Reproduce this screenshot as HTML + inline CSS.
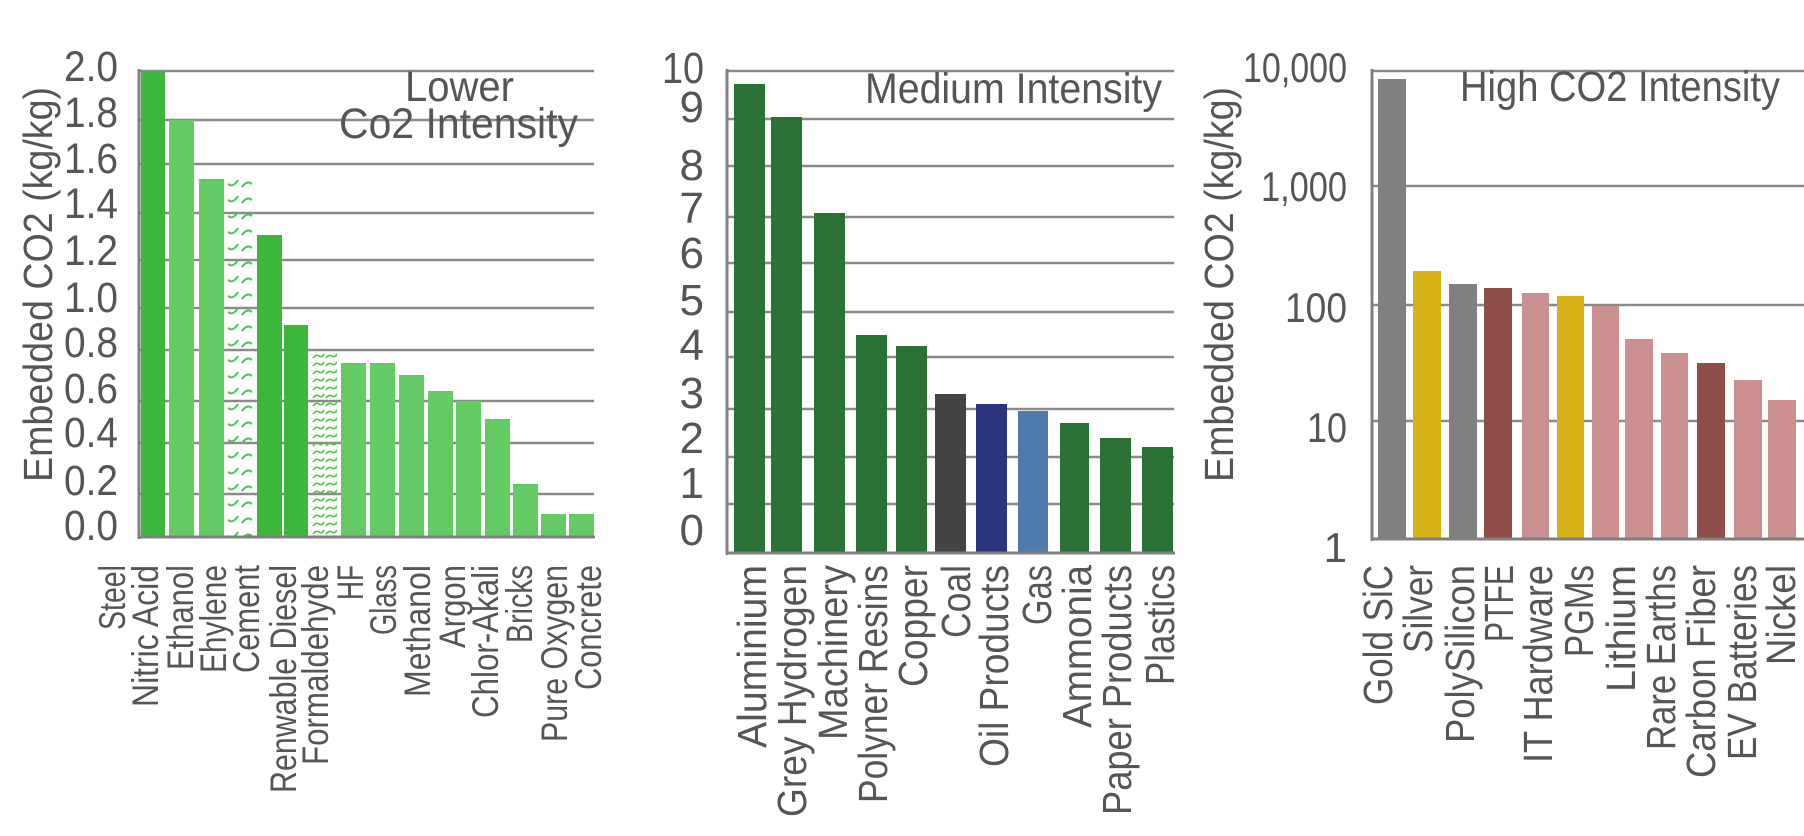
<!DOCTYPE html>
<html><head><meta charset="utf-8"><style>html,body{margin:0;padding:0;background:#fff}svg{display:block}</style></head><body>
<svg width="1804" height="836" viewBox="0 0 1804 836" xmlns="http://www.w3.org/2000/svg" font-family="'Liberation Sans', sans-serif" fill="#555">
<defs>
<pattern id="h1" width="24" height="16" patternUnits="userSpaceOnUse"><path d="M2 11 q5 -7 10 -3 t10 -4" fill="none" stroke="#4cc24c" stroke-width="2"/></pattern>
<pattern id="h2" width="13" height="8" patternUnits="userSpaceOnUse"><path d="M1 6 q3 -4 6 -2 t5 -2" fill="none" stroke="#4cc24c" stroke-width="1.6"/></pattern>
</defs>
<!-- Chart 1 gridlines -->
<g stroke="#8a8a8a" stroke-width="2.5">
<line x1="139" x2="594" y1="71" y2="71"/><line x1="139" x2="594" y1="120" y2="120"/><line x1="139" x2="594" y1="164" y2="164"/><line x1="139" x2="594" y1="213" y2="213"/><line x1="139" x2="594" y1="260" y2="260"/><line x1="139" x2="594" y1="308" y2="308"/><line x1="139" x2="594" y1="350" y2="350"/><line x1="139" x2="594" y1="401" y2="401"/><line x1="139" x2="594" y1="443" y2="443"/><line x1="139" x2="594" y1="494" y2="494"/>
</g>
<g>
<rect x="141" y="71" width="24" height="466" fill="#3cb73c"/>
<rect x="169" y="120" width="25" height="417" fill="#64ca64"/>
<rect x="199" y="179" width="25" height="358" fill="#64ca64"/>
<rect x="228" y="179" width="24" height="358" fill="url(#h1)"/>
<rect x="257" y="235" width="25" height="302" fill="#3cb73c"/>
<rect x="284" y="325" width="24" height="212" fill="#3cb73c"/>
<rect x="311" y="350" width="26" height="187" fill="url(#h2)"/>
<rect x="341" y="363" width="25" height="174" fill="#64ca64"/>
<rect x="370" y="363" width="25" height="174" fill="#64ca64"/>
<rect x="399" y="375" width="25" height="162" fill="#64ca64"/>
<rect x="428" y="391" width="25" height="146" fill="#64ca64"/>
<rect x="456" y="401" width="25" height="136" fill="#64ca64"/>
<rect x="485" y="419" width="25" height="118" fill="#64ca64"/>
<rect x="513" y="484" width="25" height="53" fill="#64ca64"/>
<rect x="541" y="514" width="25" height="23" fill="#64ca64"/>
<rect x="569" y="514" width="25" height="23" fill="#64ca64"/>
</g>
<g stroke="#7f7f7f" stroke-width="3"><line x1="139" x2="139" y1="69" y2="539"/><line x1="138" x2="595" y1="537" y2="537"/></g>
<g font-size="43" text-anchor="end">
<text x="118" y="81" textLength="54" lengthAdjust="spacingAndGlyphs">2.0</text><text x="118" y="127" textLength="54" lengthAdjust="spacingAndGlyphs">1.8</text><text x="118" y="173" textLength="54" lengthAdjust="spacingAndGlyphs">1.6</text><text x="118" y="218" textLength="54" lengthAdjust="spacingAndGlyphs">1.4</text><text x="118" y="265" textLength="54" lengthAdjust="spacingAndGlyphs">1.2</text><text x="118" y="312" textLength="54" lengthAdjust="spacingAndGlyphs">1.0</text><text x="118" y="357" textLength="54" lengthAdjust="spacingAndGlyphs">0.8</text><text x="118" y="403" textLength="54" lengthAdjust="spacingAndGlyphs">0.6</text><text x="118" y="447" textLength="54" lengthAdjust="spacingAndGlyphs">0.4</text><text x="118" y="495" textLength="54" lengthAdjust="spacingAndGlyphs">0.2</text><text x="118" y="540" textLength="54" lengthAdjust="spacingAndGlyphs">0.0</text>
</g>
<text transform="translate(52,482) rotate(-90)" font-size="41" textLength="395" lengthAdjust="spacingAndGlyphs">Embedded CO2 (kg/kg)</text>
<text x="405" y="101" font-size="43" textLength="109" lengthAdjust="spacingAndGlyphs">Lower</text>
<text x="339" y="138" font-size="43" textLength="239" lengthAdjust="spacingAndGlyphs">Co2 Intensity</text>
<g font-size="37" text-anchor="end">
<text transform="translate(125,565) rotate(-90)" textLength="65" lengthAdjust="spacingAndGlyphs">Steel</text>
<text transform="translate(158,565) rotate(-90)" textLength="142" lengthAdjust="spacingAndGlyphs">Nitric Acid</text>
<text transform="translate(193,565) rotate(-90)" textLength="105" lengthAdjust="spacingAndGlyphs">Ethanol</text>
<text transform="translate(226,565) rotate(-90)" textLength="108" lengthAdjust="spacingAndGlyphs">Ehylene</text>
<text transform="translate(259,565) rotate(-90)" textLength="108" lengthAdjust="spacingAndGlyphs">Cement</text>
<text transform="translate(296,565) rotate(-90)" textLength="228" lengthAdjust="spacingAndGlyphs">Renwable Diesel</text>
<text transform="translate(328,565) rotate(-90)" textLength="200" lengthAdjust="spacingAndGlyphs">Formaldehyde</text>
<text transform="translate(363,565) rotate(-90)" textLength="35" lengthAdjust="spacingAndGlyphs">HF</text>
<text transform="translate(396,565) rotate(-90)" textLength="70" lengthAdjust="spacingAndGlyphs">Glass</text>
<text transform="translate(430,565) rotate(-90)" textLength="132" lengthAdjust="spacingAndGlyphs">Methanol</text>
<text transform="translate(465,565) rotate(-90)" textLength="83" lengthAdjust="spacingAndGlyphs">Argon</text>
<text transform="translate(498,565) rotate(-90)" textLength="153" lengthAdjust="spacingAndGlyphs">Chlor-Akali</text>
<text transform="translate(532,565) rotate(-90)" textLength="78" lengthAdjust="spacingAndGlyphs">Bricks</text>
<text transform="translate(567,565) rotate(-90)" textLength="177" lengthAdjust="spacingAndGlyphs">Pure Oxygen</text>
<text transform="translate(601,565) rotate(-90)" textLength="125" lengthAdjust="spacingAndGlyphs">Concrete</text>
</g>

<!-- Chart 2 -->
<g stroke="#8a8a8a" stroke-width="2.5">
<line x1="727" x2="1174" y1="71" y2="71"/><line x1="727" x2="1174" y1="119" y2="119"/><line x1="727" x2="1174" y1="166" y2="166"/><line x1="727" x2="1174" y1="217" y2="217"/><line x1="727" x2="1174" y1="263" y2="263"/><line x1="727" x2="1174" y1="312" y2="312"/><line x1="727" x2="1174" y1="357" y2="357"/><line x1="727" x2="1174" y1="409" y2="409"/><line x1="727" x2="1174" y1="457" y2="457"/><line x1="727" x2="1174" y1="504" y2="504"/>
</g>
<g>
<rect x="734" y="84" width="31" height="469" fill="#2a7136"/>
<rect x="771" y="117" width="31" height="436" fill="#2a7136"/>
<rect x="814" y="213" width="31" height="340" fill="#2a7136"/>
<rect x="856" y="335" width="31" height="218" fill="#2a7136"/>
<rect x="896" y="346" width="31" height="207" fill="#2a7136"/>
<rect x="935" y="394" width="31" height="159" fill="#444444"/>
<rect x="976" y="404" width="31" height="149" fill="#2b3580"/>
<rect x="1018" y="411" width="30" height="142" fill="#4f7aad"/>
<rect x="1060" y="423" width="29" height="130" fill="#2a7136"/>
<rect x="1100" y="438" width="31" height="115" fill="#2a7136"/>
<rect x="1142" y="447" width="31" height="106" fill="#2a7136"/>
</g>
<g stroke="#7f7f7f" stroke-width="3"><line x1="727" x2="727" y1="69" y2="555"/><line x1="726" x2="1175" y1="553" y2="553"/></g>
<g font-size="44" text-anchor="end">
<text x="704" y="83" textLength="42" lengthAdjust="spacingAndGlyphs">10</text><text x="704" y="122">9</text><text x="704" y="180">8</text><text x="704" y="223">7</text><text x="704" y="268">6</text><text x="704" y="315">5</text><text x="704" y="360">4</text><text x="704" y="408">3</text><text x="704" y="453">2</text><text x="704" y="498">1</text><text x="704" y="545">0</text>
</g>
<text x="865" y="103" font-size="43" textLength="297" lengthAdjust="spacingAndGlyphs">Medium Intensity</text>
<g font-size="41" text-anchor="end">
<text transform="translate(766,565) rotate(-90)" textLength="183" lengthAdjust="spacingAndGlyphs">Aluminium</text>
<text transform="translate(806,565) rotate(-90)" textLength="252" lengthAdjust="spacingAndGlyphs">Grey Hydrogen</text>
<text transform="translate(847,565) rotate(-90)" textLength="175" lengthAdjust="spacingAndGlyphs">Machinery</text>
<text transform="translate(887,565) rotate(-90)" textLength="238" lengthAdjust="spacingAndGlyphs">Polyner Resins</text>
<text transform="translate(927,565) rotate(-90)" textLength="122" lengthAdjust="spacingAndGlyphs">Copper</text>
<text transform="translate(970,565) rotate(-90)" textLength="73" lengthAdjust="spacingAndGlyphs">Coal</text>
<text transform="translate(1008,565) rotate(-90)" textLength="202" lengthAdjust="spacingAndGlyphs">Oil Products</text>
<text transform="translate(1051,565) rotate(-90)" textLength="60" lengthAdjust="spacingAndGlyphs">Gas</text>
<text transform="translate(1091,565) rotate(-90)" textLength="163" lengthAdjust="spacingAndGlyphs">Ammonia</text>
<text transform="translate(1131,565) rotate(-90)" textLength="250" lengthAdjust="spacingAndGlyphs">Paper Products</text>
<text transform="translate(1174,565) rotate(-90)" textLength="120" lengthAdjust="spacingAndGlyphs">Plastics</text>
</g>

<!-- Chart 3 -->
<g stroke="#8a8a8a" stroke-width="2.5">
<line x1="1372" x2="1804" y1="71" y2="71"/><line x1="1372" x2="1804" y1="186" y2="186"/><line x1="1372" x2="1804" y1="305" y2="305"/><line x1="1372" x2="1804" y1="421" y2="421"/>
</g>
<g>
<rect x="1378" y="79" width="28" height="460" fill="#808080"/>
<rect x="1413" y="271" width="28" height="268" fill="#d7b215"/>
<rect x="1449" y="284" width="28" height="255" fill="#808080"/>
<rect x="1484" y="288" width="28" height="251" fill="#8f4f48"/>
<rect x="1522" y="293" width="27" height="246" fill="#cc8f8f"/>
<rect x="1557" y="296" width="27" height="243" fill="#d7b215"/>
<rect x="1592" y="306" width="27" height="233" fill="#cc8f8f"/>
<rect x="1625" y="339" width="28" height="200" fill="#cc8f8f"/>
<rect x="1661" y="353" width="27" height="186" fill="#cc8f8f"/>
<rect x="1697" y="363" width="28" height="176" fill="#8f4f48"/>
<rect x="1734" y="380" width="28" height="159" fill="#cc8f8f"/>
<rect x="1768" y="400" width="28" height="139" fill="#cc8f8f"/>
</g>
<g stroke="#7f7f7f" stroke-width="3"><line x1="1372" x2="1372" y1="69" y2="541"/><line x1="1371" x2="1804" y1="539" y2="539"/></g>
<g font-size="42" text-anchor="end">
<text x="1347" y="82" textLength="104" lengthAdjust="spacingAndGlyphs">10,000</text><text x="1347" y="201" textLength="86" lengthAdjust="spacingAndGlyphs">1,000</text><text x="1347" y="322" textLength="62" lengthAdjust="spacingAndGlyphs">100</text><text x="1347" y="442" textLength="40" lengthAdjust="spacingAndGlyphs">10</text><text x="1347" y="562">1</text>
</g>
<text transform="translate(1233,482) rotate(-90)" font-size="41" textLength="395" lengthAdjust="spacingAndGlyphs">Embedded CO2 (kg/kg)</text>
<text x="1460" y="101" font-size="43" textLength="320" lengthAdjust="spacingAndGlyphs">High CO2 Intensity</text>
<g font-size="41" text-anchor="end">
<text transform="translate(1392,565) rotate(-90)" textLength="140" lengthAdjust="spacingAndGlyphs">Gold SiC</text>
<text transform="translate(1432,565) rotate(-90)" textLength="88" lengthAdjust="spacingAndGlyphs">Silver</text>
<text transform="translate(1474,565) rotate(-90)" textLength="178" lengthAdjust="spacingAndGlyphs">PolySilicon</text>
<text transform="translate(1513,565) rotate(-90)" textLength="77" lengthAdjust="spacingAndGlyphs">PTFE</text>
<text transform="translate(1552,565) rotate(-90)" textLength="198" lengthAdjust="spacingAndGlyphs">IT Hardware</text>
<text transform="translate(1593,565) rotate(-90)" textLength="92" lengthAdjust="spacingAndGlyphs">PGMs</text>
<text transform="translate(1635,565) rotate(-90)" textLength="127" lengthAdjust="spacingAndGlyphs">Lithium</text>
<text transform="translate(1675,565) rotate(-90)" textLength="185" lengthAdjust="spacingAndGlyphs">Rare Earths</text>
<text transform="translate(1715,565) rotate(-90)" textLength="213" lengthAdjust="spacingAndGlyphs">Carbon Fiber</text>
<text transform="translate(1756,565) rotate(-90)" textLength="195" lengthAdjust="spacingAndGlyphs">EV Batteries</text>
<text transform="translate(1795,565) rotate(-90)" textLength="100" lengthAdjust="spacingAndGlyphs">Nickel</text>
</g>
</svg>
</body></html>
